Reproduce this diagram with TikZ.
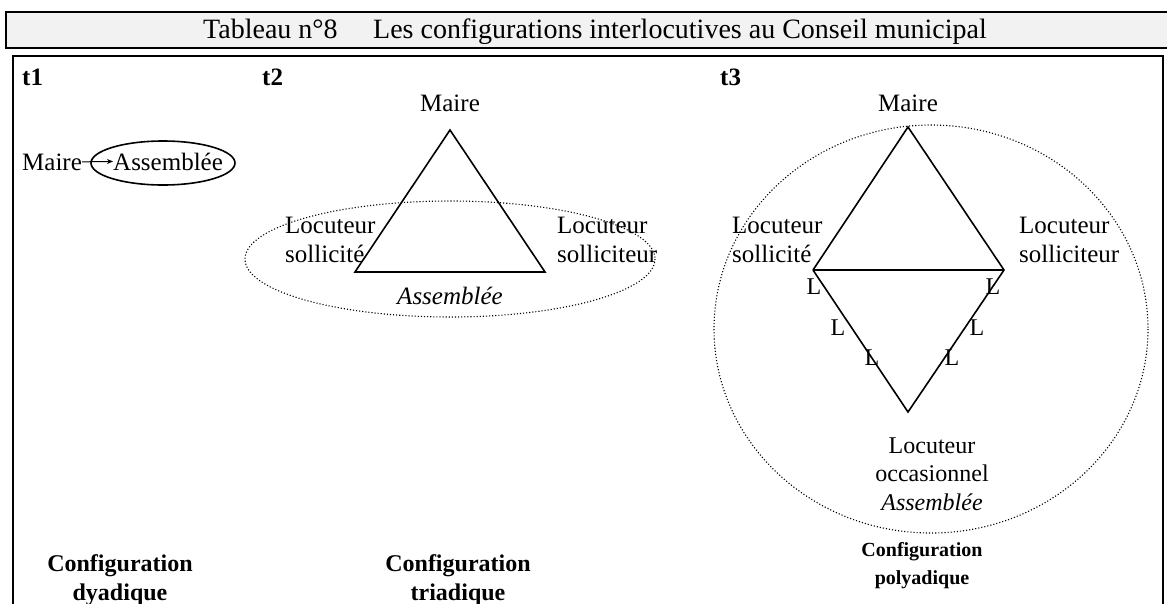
\documentclass[tikz,border=0pt]{standalone}
\usepackage{fontspec}
\setmainfont{Liberation Serif}
\usetikzlibrary{arrows.meta}
\begin{document}
\begin{tikzpicture}[x=1pt,y=-1pt,
  lbl/.style={inner sep=0pt, font=\fontsize{25}{29}\selectfont},
  sml/.style={inner sep=0pt, font=\fontsize{24}{28.5}\selectfont},
  ttl/.style={inner sep=0pt, font=\fontsize{28}{30}\selectfont},
  tag/.style={inner sep=0pt, font=\bfseries\fontsize{25}{29}\selectfont},
  cfg/.style={inner sep=0pt, align=center, font=\bfseries\fontsize{24}{29}\selectfont},
  frame/.style={line width=2.5pt},
  edge/.style={line width=1.6pt},
  dots/.style={line width=1.1pt, dotted}]
\useasboundingbox (0,0) rectangle (1167,603);
% header
\draw[frame, fill=black!5] (6,12) rectangle (1175,48);
\node[ttl, anchor=base west] (tab) at (203,38) {Tableau n°8};
\node[ttl, anchor=base west] (title) at (373,38) {Les configurations interlocutives au Conseil municipal};
% body frame
\draw[frame] (13,615) -- (13,56) -- (1163,56) -- (1163,615);
% tags
\node[tag, anchor=base west] (t1) at (22,85) {t1};
\node[tag, anchor=base west] (t2) at (262,85) {t2};
\node[tag, anchor=base west] (t3) at (720,85) {t3};
% t1
\node[lbl, anchor=base west] (maire1) at (22,170) {Maire};
\node[lbl, anchor=base west] (ass1) at (113,170) {Assemblée};
\draw[line width=1pt, -{Stealth[length=6pt,width=5pt]}] (maire1.east) -- (ass1.west);
\draw[line width=1.6pt] (163,163) ellipse [x radius=72, y radius=22];
% t2
\coordinate (a2) at (450,130);
\coordinate (b2) at (355,272);
\coordinate (c2) at (545,272);
\draw[dots] (450,259) ellipse [x radius=205, y radius=58];
\draw[edge] (a2) -- (b2) -- (c2) -- cycle;
\node[lbl, anchor=base] (maire2) at (450,111) {Maire};
\node[lbl, anchor=base west, align=left] (sol2) at (285,262) {Locuteur\\sollicité};
\node[lbl, anchor=base west, align=left] (slr2) at (557,262) {Locuteur\\solliciteur};
\node[lbl, anchor=base] (ass2) at (450,304) {\itshape Assemblée};
% t3
\coordinate (a3) at (908,127);
\coordinate (b3) at (813,270);
\coordinate (c3) at (1004,270);
\coordinate (d3) at (908,412);
\draw[dots] (931,329) ellipse [x radius=217, y radius=204];
\draw[edge] (b3) -- (a3) -- (c3) -- (d3) -- (b3);
\draw[line width=2.5pt] (b3) -- (c3);
\node[lbl, anchor=base] (maire3) at (908,111) {Maire};
\node[lbl, anchor=base west, align=left] (sol3) at (732,262) {Locuteur\\sollicité};
\node[lbl, anchor=base west, align=left] (slr3) at (1019,262) {Locuteur\\solliciteur};
\node[sml] (l1) at (814,287) {L};
\node[sml] (l2) at (838,328) {L};
\node[sml] (l3) at (872,358) {L};
\node[sml] (r1) at (993,287) {L};
\node[sml] (r2) at (977,328) {L};
\node[sml] (r3) at (952,358) {L};
\node[sml, anchor=base, align=center] (occ) at (932,510) {Locuteur\\occasionnel\\\itshape Assemblée};
% bottom captions
\node[cfg, anchor=base] (c1) at (120,600) {Configuration\\dyadique};
\node[cfg, anchor=base] (c2) at (458,600) {Configuration\\triadique};
\node[cfg, anchor=base, font=\bfseries\fontsize{20}{28}\selectfont] (c3) at (922,584) {Configuration\\polyadique};
\end{tikzpicture}
\end{document}
